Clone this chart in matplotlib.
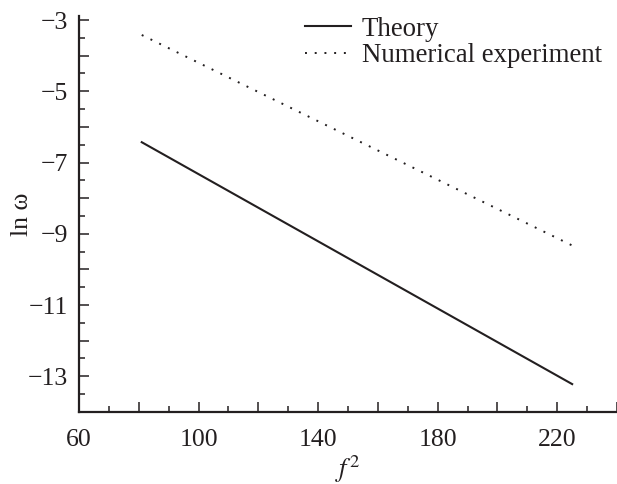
import matplotlib.pyplot as plt
from matplotlib.ticker import MultipleLocator, FuncFormatter

plt.rcParams['font.family'] = ['Liberation Serif', 'DejaVu Serif']
plt.rcParams['mathtext.fontset'] = 'stix'

# end points of both lines (x = f^2, y = ln omega)
f2_theory = [81, 225]
ln_w_theory = [-6.43, -13.22]
f2_numeric = [81, 226]
ln_w_numeric = [-3.42, -9.37]

fig = plt.figure(figsize=(6.17, 4.84), dpi=100)
ax = fig.add_axes([0.128, 0.149, 0.872, 0.817])

ax.plot(f2_theory, ln_w_theory, color='#231f20', lw=1.5, label='Theory')
ax.plot(f2_numeric, ln_w_numeric, color='#231f20', lw=1.4,
        linestyle=(0, (1, 4.0)), label='Numerical experiment')

ax.set_xlim(60, 240)
ax.set_ylim(-14, -2.9)

ax.spines['top'].set_visible(False)
ax.spines['right'].set_visible(False)
for s in ['left', 'bottom']:
    ax.spines[s].set_linewidth(1.6)
    ax.spines[s].set_color('#231f20')

ax.xaxis.set_major_locator(MultipleLocator(20))
ax.xaxis.set_minor_locator(MultipleLocator(10))
ax.yaxis.set_major_locator(MultipleLocator(1))
ax.yaxis.set_minor_locator(MultipleLocator(0.5))
ax.xaxis.set_major_formatter(FuncFormatter(lambda v, p: f'{v:.0f}' if round(v) % 40 == 20 else ''))
ax.yaxis.set_major_formatter(FuncFormatter(
    lambda v, p: f'\u2212{abs(v):.0f}' if round(abs(v)) % 2 == 1 else ''))

ax.tick_params(which='both', direction='in', width=1.1, color='#231f20',
               labelsize=18.5, labelcolor='#231f20')
ax.tick_params(which='major', length=7)
ax.tick_params(which='minor', length=4)
ax.tick_params(axis='x', which='major', pad=12)
ax.tick_params(axis='y', which='major', pad=8)

ax.set_xlabel('$f^2$', fontsize=19, color='#231f20', labelpad=2)
ax.set_ylabel('ln \u03c9', fontsize=18.5, color='#231f20')
ax.yaxis.set_label_coords(-0.086, 0.5)

ax.legend(loc='upper left', bbox_to_anchor=(0.415, 1.006), bbox_transform=ax.transAxes,
          frameon=False, fontsize=19.4, handlelength=1.7, handletextpad=0.4,
          labelspacing=0.06, borderpad=0.1, borderaxespad=0.0, labelcolor='#231f20')

fig.savefig('out.png', dpi=100)
